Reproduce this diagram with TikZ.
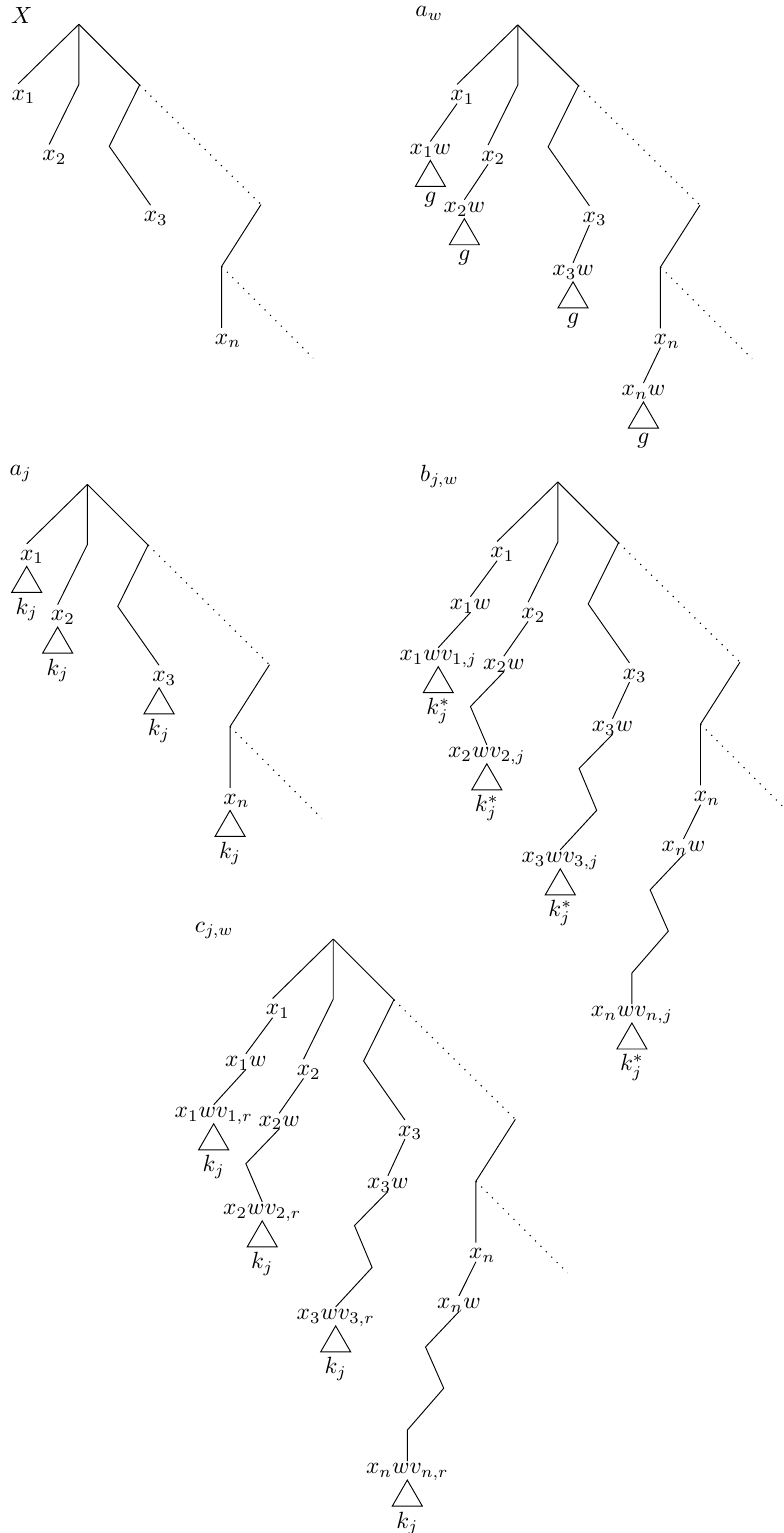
\documentclass[tikz,border=0pt]{standalone}
\usetikzlibrary{positioning,shapes.geometric}
\begin{document}
\begin{tikzpicture}[x=0.91cm, y=-0.91cm,
    lbl/.style={anchor=north, inner sep=1pt, text depth=0pt},
    lvl/.style={lbl, text height=5.8pt},
    tri/.style={draw, regular polygon, regular polygon sides=3, minimum size=0.52cm, inner sep=0pt},
    leaf/.style={inner sep=1pt},
    dots/.style={line width=0.5pt, dash pattern=on 0.5pt off 2.75pt}]
  \useasboundingbox (0,0) rectangle (12.9,25.255);
  \clip (0,0) rectangle (12.9,25.255);

  % X
  \begin{scope}[shift={(1.30,0.40)}]
    \node (X) at (-0.94,-0.15) {$X$};
    \coordinate (Xr) at (0,0);
    \coordinate (Xm) at (0,0.99);
    \coordinate (Xq1) at (1,1);
    \coordinate (Xq2) at (0.5,2.01);
    \coordinate (Xd1) at (3,2.97);
    \coordinate (Xd2) at (2.35,3.99);
    \coordinate (Xd3) at (3.86,5.5);
    \node[lvl] (X1) at (-1,0.98) {$x\rlap{$_1$}$};
    \node[lvl] (X2) at (-0.49,1.98) {$x\rlap{$_2$}$};
    \node[lvl] (X3) at (1.18,2.98) {$x\rlap{$_3$}$};
    \node[lvl] (Xn) at (2.35,5) {$x\rlap{$_n$}$};
    \draw (Xr) -- (X1.north);
    \draw (Xr) -- (Xm) -- (X2.north);
    \draw (Xr) -- (Xq1) -- (Xq2) -- (X3.north);
    \draw[dots] (Xq1) -- (Xd1);
    \draw (Xd1) -- (Xd2) -- (Xn.north);
    \draw[dots] (Xd2) -- (Xd3);
  \end{scope}

  % a_w
  \begin{scope}[shift={(8.53,0.41)}]
    \node (aw) at (-1.46,-0.19) {$a_w$};
    \coordinate (awr) at (0,0);
    \coordinate (awm) at (0,0.99);
    \coordinate (awq1) at (1,1);
    \coordinate (awq2) at (0.5,2.01);
    \coordinate (awd1) at (3,2.97);
    \coordinate (awd2) at (2.35,3.99);
    \coordinate (awd3) at (3.86,5.5);
    \node[lvl] (aw1) at (-1,0.98) {$x\rlap{$_1$}$};
    \node[lvl] (aw2) at (-0.49,1.98) {$x\rlap{$_2$}$};
    \node[lvl] (aw3) at (1.18,2.98) {$x\rlap{$_3$}$};
    \node[lvl] (awn) at (2.35,5) {$x\rlap{$_n$}$};
    \node[lbl] (aw1w) at (-1.44,1.92) {$x_1w$};
    \node[lbl] (aw2w) at (-0.88,2.88) {$x_2w$};
    \node[lbl] (aw3w) at (0.91,3.92) {$x_3w$};
    \node[lbl] (awnw) at (2.07,5.9) {$x_nw$};
    \node[tri, below=1pt of aw1w] (aw1t) {};
    \node[tri, below=1pt of aw2w] (aw2t) {};
    \node[tri, below=1pt of aw3w] (aw3t) {};
    \node[tri, below=1pt of awnw] (awnt) {};
    \node[leaf, below=1pt of aw1t] (aw1g) {$g$};
    \node[leaf, below=1pt of aw2t] (aw2g) {$g$};
    \node[leaf, below=1pt of aw3t] (aw3g) {$g$};
    \node[leaf, below=1pt of awnt] (awng) {$g$};
    \draw (awr) -- (aw1.north);
    \draw (awr) -- (awm) -- (aw2.north);
    \draw (awr) -- (awq1) -- (awq2) -- (aw3.north);
    \draw[dots] (awq1) -- (awd1);
    \draw (awd1) -- (awd2) -- (awn.north);
    \draw[dots] (awd2) -- (awd3);
    \draw (aw1.south) -- (aw1w.north);
    \draw (aw2.south) -- (aw2w.north);
    \draw (aw3.south) -- (aw3w.north);
    \draw (awn.south) -- (awnw.north);
  \end{scope}

  % a_j
  \begin{scope}[shift={(1.44,7.98)}]
    \node (aj) at (-1.10,-0.18) {$a_j$};
    \coordinate (ajr) at (0,0);
    \coordinate (ajm) at (0,0.99);
    \coordinate (ajq1) at (1,1);
    \coordinate (ajq2) at (0.5,2.01);
    \coordinate (ajd1) at (3,2.97);
    \coordinate (ajd2) at (2.35,3.99);
    \coordinate (ajd3) at (3.86,5.5);
    \node[lvl] (aj1) at (-1,0.98) {$x\rlap{$_1$}$};
    \node[lvl] (aj2) at (-0.49,1.98) {$x\rlap{$_2$}$};
    \node[lvl] (aj3) at (1.18,2.98) {$x\rlap{$_3$}$};
    \node[lvl] (ajn) at (2.35,5) {$x\rlap{$_n$}$};
    \node[tri, below=1pt of aj1] (aj1t) {};
    \node[tri, below=1pt of aj2] (aj2t) {};
    \node[tri, below=1pt of aj3] (aj3t) {};
    \node[tri, below=1pt of ajn] (ajnt) {};
    \node[leaf, below=1pt of aj1t] (aj1k) {$k_j$};
    \node[leaf, below=1pt of aj2t] (aj2k) {$k_j$};
    \node[leaf, below=1pt of aj3t] (aj3k) {$k_j$};
    \node[leaf, below=1pt of ajnt] (ajnk) {$k_j$};
    \draw (ajr) -- (aj1.north);
    \draw (ajr) -- (ajm) -- (aj2.north);
    \draw (ajr) -- (ajq1) -- (ajq2) -- (aj3.north);
    \draw[dots] (ajq1) -- (ajd1);
    \draw (ajd1) -- (ajd2) -- (ajn.north);
    \draw[dots] (ajd2) -- (ajd3);
  \end{scope}

  % b_{j,w}
  \begin{scope}[shift={(9.19,7.94)}]
    \node (b) at (-1.95,-0.09) {$b_{j,w}$};
    \coordinate (br) at (0,0);
    \coordinate (bm) at (0,0.99);
    \coordinate (bq1) at (1,1);
    \coordinate (bq2) at (0.5,2.01);
    \coordinate (bd1) at (3,2.97);
    \coordinate (bd2) at (2.35,3.99);
    \coordinate (bd3) at (3.86,5.5);
    \coordinate (bp) at (-1.44,3.7);
    \coordinate (bs1) at (0.35,4.72);
    \coordinate (bs2) at (0.64,5.41);
    \coordinate (bu1) at (1.52,6.72);
    \coordinate (bu2) at (1.82,7.4);
    \coordinate (bu3) at (1.22,8.09);
    \node[lvl] (b1) at (-1,0.98) {$x\rlap{$_1$}$};
    \node[lvl] (b2) at (-0.49,1.98) {$x\rlap{$_2$}$};
    \node[lvl] (b3) at (1.18,2.98) {$x\rlap{$_3$}$};
    \node[lvl] (bn) at (2.35,5) {$x\rlap{$_n$}$};
    \node[lbl] (b1w) at (-1.44,1.89) {$x_1w$};
    \node[lbl] (b2w) at (-0.89,2.87) {$x_2w$};
    \node[lbl] (b3w) at (0.9,3.9) {$x_3w$};
    \node[lbl] (bnw) at (2.07,5.88) {$x_nw$};
    \node[lbl] (b1v) at (-1.97,2.73) {$x_1wv_{1,j}$};
    \node[lbl] (b2v) at (-1.17,4.33) {$x_2wv_{2,j}$};
    \node[lbl] (b3v) at (0.04,6.06) {$x_3wv_{3,j}$};
    \node[lbl] (bnv) at (1.22,8.6) {$x_nwv_{n,j}$};
    \node[tri, below=1pt of b1v] (b1t) {};
    \node[tri, below=1pt of b2v] (b2t) {};
    \node[tri, below=1pt of b3v] (b3t) {};
    \node[tri, below=1pt of bnv] (bnt) {};
    \node[leaf, below=1pt of b1t] (b1k) {$k_j^*$};
    \node[leaf, below=1pt of b2t] (b2k) {$k_j^*$};
    \node[leaf, below=1pt of b3t] (b3k) {$k_j^*$};
    \node[leaf, below=1pt of bnt] (bnk) {$k_j^*$};
    \draw (br) -- (b1.north);
    \draw (br) -- (bm) -- (b2.north);
    \draw (br) -- (bq1) -- (bq2) -- (b3.north);
    \draw[dots] (bq1) -- (bd1);
    \draw (bd1) -- (bd2) -- (bn.north);
    \draw[dots] (bd2) -- (bd3);
    \draw (b1.south) -- (b1w.north);
    \draw (b2.south) -- (b2w.north);
    \draw (b3.south) -- (b3w.north);
    \draw (bn.south) -- (bnw.north);
    \draw (b1w.south) -- (b1v.north);
    \draw (b2w.south) -- (bp) -- (b2v.north);
    \draw (b3w.south) -- (bs1) -- (bs2) -- (b3v.north);
    \draw (bnw.south) -- (bu1) -- (bu2) -- (bu3) -- (bnv.north);
  \end{scope}

  % c_{j,w}
  \begin{scope}[shift={(5.49,15.47)}]
    \node (c) at (-1.96,-0.14) {$c_{j,w}$};
    \coordinate (cr) at (0,0);
    \coordinate (cm) at (0,0.99);
    \coordinate (cq1) at (1,1);
    \coordinate (cq2) at (0.5,2.01);
    \coordinate (cd1) at (3,2.97);
    \coordinate (cd2) at (2.35,3.99);
    \coordinate (cd3) at (3.86,5.5);
    \coordinate (cp) at (-1.44,3.7);
    \coordinate (cs1) at (0.35,4.72);
    \coordinate (cs2) at (0.64,5.41);
    \coordinate (cu1) at (1.52,6.72);
    \coordinate (cu2) at (1.82,7.4);
    \coordinate (cu3) at (1.22,8.09);
    \node[lvl] (c1) at (-1,0.98) {$x\rlap{$_1$}$};
    \node[lvl] (c2) at (-0.49,1.98) {$x\rlap{$_2$}$};
    \node[lvl] (c3) at (1.18,2.98) {$x\rlap{$_3$}$};
    \node[lvl] (cn) at (2.35,5) {$x\rlap{$_n$}$};
    \node[lbl] (c1w) at (-1.44,1.89) {$x_1w$};
    \node[lbl] (c2w) at (-0.89,2.87) {$x_2w$};
    \node[lbl] (c3w) at (0.9,3.9) {$x_3w$};
    \node[lbl] (cnw) at (2.07,5.88) {$x_nw$};
    \node[lbl] (c1v) at (-1.97,2.73) {$x_1wv_{1,r}$};
    \node[lbl] (c2v) at (-1.17,4.33) {$x_2wv_{2,r}$};
    \node[lbl] (c3v) at (0.04,6.06) {$x_3wv_{3,r}$};
    \node[lbl] (cnv) at (1.22,8.6) {$x_nwv_{n,r}$};
    \node[tri, below=1pt of c1v] (c1t) {};
    \node[tri, below=1pt of c2v] (c2t) {};
    \node[tri, below=1pt of c3v] (c3t) {};
    \node[tri, below=1pt of cnv] (cnt) {};
    \node[leaf, below=1pt of c1t] (c1k) {$k_j$};
    \node[leaf, below=1pt of c2t] (c2k) {$k_j$};
    \node[leaf, below=1pt of c3t] (c3k) {$k_j$};
    \node[leaf, below=1pt of cnt] (cnk) {$k_j$};
    \draw (cr) -- (c1.north);
    \draw (cr) -- (cm) -- (c2.north);
    \draw (cr) -- (cq1) -- (cq2) -- (c3.north);
    \draw[dots] (cq1) -- (cd1);
    \draw (cd1) -- (cd2) -- (cn.north);
    \draw[dots] (cd2) -- (cd3);
    \draw (c1.south) -- (c1w.north);
    \draw (c2.south) -- (c2w.north);
    \draw (c3.south) -- (c3w.north);
    \draw (cn.south) -- (cnw.north);
    \draw (c1w.south) -- (c1v.north);
    \draw (c2w.south) -- (cp) -- (c2v.north);
    \draw (c3w.south) -- (cs1) -- (cs2) -- (c3v.north);
    \draw (cnw.south) -- (cu1) -- (cu2) -- (cu3) -- (cnv.north);
  \end{scope}
\end{tikzpicture}
\end{document}
